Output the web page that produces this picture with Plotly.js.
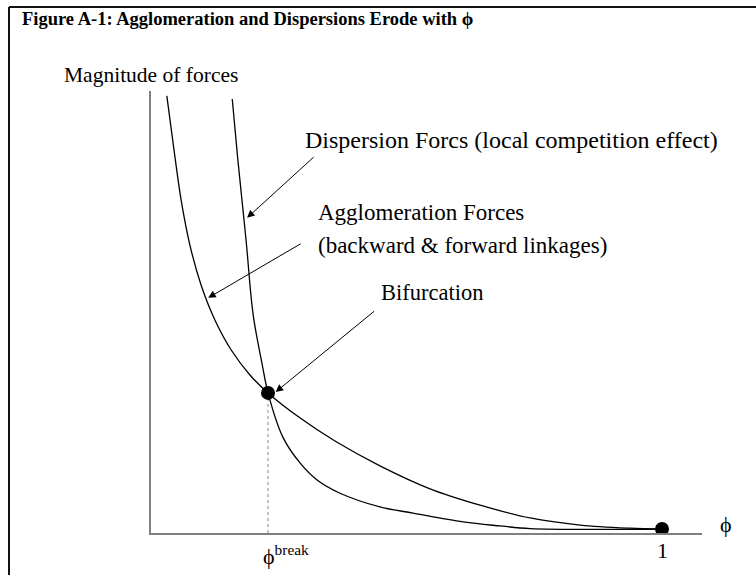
<!DOCTYPE html>
<html>
<head>
<meta charset="utf-8">
<script src="https://cdn.plot.ly/plotly-3.0.1.min.js"></script>
<style>html,body{margin:0;padding:0;background:#fff;}#chart{width:756px;height:575px;}</style>
</head>
<body>
<div id="chart"></div>
<script>
// ---- data ----
const phiAgglomeration = [0.031, 0.045, 0.059, 0.076, 0.098, 0.125, 0.157, 0.194, 0.229, 0.292, 0.360, 0.448, 0.546, 0.644, 0.742, 0.840, 0.937, 1.000];
const magAgglomeration = [0.989, 0.867, 0.753, 0.652, 0.561, 0.482, 0.414, 0.357, 0.317, 0.260, 0.208, 0.152, 0.100, 0.063, 0.034, 0.018, 0.011, 0.009];

const phiDispersion = [0.159, 0.170, 0.186, 0.200, 0.217, 0.229, 0.258, 0.292, 0.325, 0.370, 0.448, 0.513, 0.611, 0.683, 0.742, 0.879, 1.000];
const magDispersion = [0.982, 0.844, 0.663, 0.493, 0.385, 0.317, 0.217, 0.158, 0.120, 0.090, 0.059, 0.045, 0.025, 0.016, 0.010, 0.008, 0.009];

const phiBreak = 0.229, magBreak = 0.317;
const phiOne = 1.0, magOne = 0.009;

const titleText = "Figure A-1: Agglomeration and Dispersions Erode with \u03D5";
const yLabel = "Magnitude of forces";
const xLabel = "\u03D5";
const dispersionLabel = "Dispersion Forcs (local competition effect)";
const agglomerationLabel1 = "Agglomeration Forces";
const agglomerationLabel2 = "(backward & forward linkages)";
const bifurcationLabel = "Bifurcation";
const breakLabel = "\u03D5<sup>break</sup>";
const oneLabel = "1";

// ---- layout helpers (pixel -> paper) ----
const W = 756, H = 575, L = 151, R = 54, T = 91, B = 42;
const pw = W - L - R, ph = H - T - B;
const px = x => (x - L) / pw;
const py = y => (H - B - y) / ph;
const FONT = "Liberation Serif, Times New Roman, serif";

const traces = [
  {x: phiAgglomeration, y: magAgglomeration, mode: 'lines', line: {color: '#000', width: 1.3, shape: 'spline', smoothing: 1}, hoverinfo: 'skip'},
  {x: phiDispersion, y: magDispersion, mode: 'lines', line: {color: '#000', width: 1.3, shape: 'spline', smoothing: 1}, hoverinfo: 'skip'},
  {x: [phiBreak, phiBreak], y: [0, magBreak], mode: 'lines', line: {color: '#888', width: 1, dash: 'dot'}, hoverinfo: 'skip'},
  {x: [phiBreak, phiOne], y: [magBreak, magOne], mode: 'markers', marker: {color: '#000', size: 14, opacity: 1, line: {width: 0}}, hoverinfo: 'skip'}
];

function txt(text, x, y, size, extra) {
  return Object.assign({text: text, xref: 'paper', yref: 'paper', x: px(x), y: py(y), xanchor: 'left', yanchor: 'middle', showarrow: false, align: 'left', font: {family: FONT, size: size, color: '#000'}}, extra || {});
}
function arrow(xd, yd, axp, ayp) {
  return {text: '', xref: 'x', yref: 'y', x: xd, y: yd, ax: axp, ay: ayp, showarrow: true, arrowhead: 2, arrowsize: 1.5, arrowwidth: 1, arrowcolor: '#000'};
}

const layout = {
  width: W, height: H,
  margin: {l: L, r: R, t: T, b: B, pad: 0},
  paper_bgcolor: '#fff', plot_bgcolor: '#fff',
  showlegend: false,
  xaxis: {range: [0, pw / 511], showline: true, linecolor: '#808080', linewidth: 2, showgrid: false, zeroline: false, showticklabels: false, ticks: '', fixedrange: true},
  yaxis: {range: [0, 1], showline: true, linecolor: '#808080', linewidth: 2, showgrid: false, zeroline: false, showticklabels: false, ticks: '', fixedrange: true},
  shapes: [
    {type: 'line', xref: 'paper', yref: 'paper', x0: px(9), x1: px(9), y0: py(7), y1: py(580), line: {color: '#111', width: 2}},
    {type: 'line', xref: 'paper', yref: 'paper', x0: px(9), x1: px(760), y0: py(7), y1: py(7), line: {color: '#111', width: 2}}
  ],
  annotations: [
    txt('<b>' + titleText + '</b>', 20, 19, 18.5),
    txt(yLabel, 62, 75, 21.5),
    txt(dispersionLabel, 303, 140, 24),
    txt(agglomerationLabel1, 316, 212, 23),
    txt(agglomerationLabel2, 316, 245, 23),
    txt(bifurcationLabel, 379, 292, 22.5),
    txt(breakLabel, 261, 555, 22),
    txt(oneLabel, 662, 550, 22, {xanchor: 'center'}),
    txt(xLabel, 726, 524, 22, {xanchor: 'center'}),
    arrow(0.188, 0.713, 68, -62),
    arrow(0.112, 0.532, 94, -55),
    arrow(0.244, 0.319, 100, -82)
  ]
};

Plotly.newPlot('chart', traces, layout, {staticPlot: true, displayModeBar: false});
</script>
</body>
</html>
